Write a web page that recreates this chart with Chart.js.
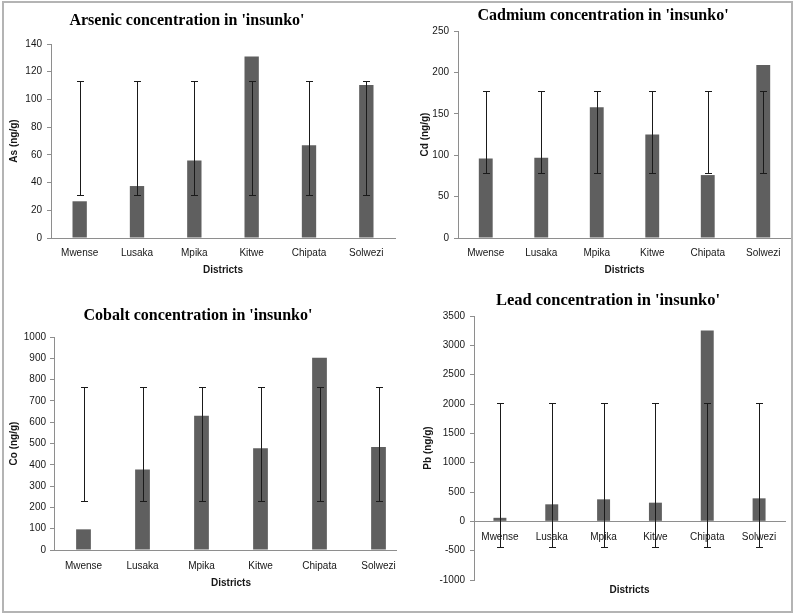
<!DOCTYPE html>
<html>
<head>
<meta charset="utf-8">
<title>Heavy metal concentration in 'insunko'</title>
<script src="https://cdn.jsdelivr.net/npm/chart.js@4.4.1/dist/chart.umd.min.js"></script>
<style>
  body { margin:0; background:#fff; }
  #page { position:relative; width:794px; height:614px; overflow:hidden; background:#fff; }
  .panel { position:absolute; background:#fff; }
  .ttl { position:absolute; width:400px; text-align:center; font-family:"Liberation Serif","Times New Roman",serif;
         font-weight:bold; font-size:16px; line-height:20px; color:#000; white-space:nowrap; z-index:5; }
  #frame { position:absolute; left:2px; top:1px; width:787px; height:608px; border:2px solid #b4b4b4; z-index:10; pointer-events:none; }
</style>
</head>
<body>
<div id="page">
  <div class="panel" style="left:0;top:290px;width:420px;height:324px;z-index:1"><canvas id="coChart"></canvas></div>
  <div class="panel" style="left:0;top:0;width:397px;height:290px;z-index:2"><canvas id="asChart"></canvas></div>
  <div class="panel" style="left:397px;top:0;width:397px;height:290px;z-index:2"><canvas id="cdChart"></canvas></div>
  <div class="panel" style="left:397px;top:290px;width:397px;height:324px;z-index:3"><canvas id="pbChart"></canvas></div>
  <div class="ttl" style="left:-13px;top:10px">Arsenic concentration in 'insunko'</div>
  <div class="ttl" style="left:403px;top:5px">Cadmium concentration in 'insunko'</div>
  <div class="ttl" style="left:-2px;top:305px">Cobalt concentration in 'insunko'</div>
  <div class="ttl" style="left:408px;top:290px;font-size:16.5px">Lead concentration in 'insunko'</div>
  <div id="frame"></div>
</div>
<script>
const districts = ["Mwense", "Lusaka", "Mpika", "Kitwe", "Chipata", "Solwezi"];

const arsenic = [26.5, 37.5, 56, 131, 67, 110.5];
const arsenicLow = [31, 31, 31, 31, 31, 31];
const arsenicHigh = [113, 113, 113, 113, 113, 113];
const arsenicTicks = [0, 140, 20];

const cadmium = [96, 97, 158, 125, 76, 209];
const cadmiumLow = [78, 78, 78, 78, 78, 78];
const cadmiumHigh = [177, 177, 177, 177, 177, 177];
const cadmiumTicks = [0, 250, 50];

const cobalt = [97, 378, 630, 478, 903, 483];
const cobaltLow = [228, 228, 228, 228, 228, 228];
const cobaltHigh = [763, 763, 763, 763, 763, 763];
const cobaltTicks = [0, 1000, 100];

const lead = [60, 290, 375, 318, 3254, 392];
const leadLow = [-435, -435, -435, -435, -435, -435];
const leadHigh = [2010, 2010, 2010, 2010, 2010, 2010];
const leadTicks = [-1000, 3500, 500];

const BAR = "#5f5f5f";
const AXIS = "#8e8e8e";
const TEXT = "#161616";
const SANS = "'Liberation Sans', Arial, sans-serif";

// simple error bars drawn through the chart's own scales
const errorBarPlugin = {
    id: "errorBars",
    afterDatasetsDraw(chart, args, opts) {
        const ctx = chart.ctx, x = chart.scales.x, y = chart.scales.y;
        ctx.save();
        ctx.strokeStyle = "#1a1a1a";
        ctx.lineWidth = 1;
        opts.low.forEach((lo, i) => {
            const px = Math.round(x.getPixelForValue(i)) + 0.5;
            const yLo = Math.round(y.getPixelForValue(lo)) + 0.5;
            const yHi = Math.round(y.getPixelForValue(opts.high[i])) + 0.5;
            ctx.beginPath();
            ctx.moveTo(px, yLo); ctx.lineTo(px, yHi);
            ctx.moveTo(px - 3.5, yLo); ctx.lineTo(px + 3.5, yLo);
            ctx.moveTo(px - 3.5, yHi); ctx.lineTo(px + 3.5, yHi);
            ctx.stroke();
        });
        ctx.restore();
    }
};

// one panel; cfg holds the layout numbers for that panel
function makeChart(id, values, low, high, ticks, yTitle, cfg) {
    const scales = {
        x: {
            type: "category",
            offset: true,
            position: cfg.xAtZero ? {y: 0} : "bottom",
            grid: {display: false, drawTicks: false},
            border: {display: true, color: AXIS, width: 1},
            ticks: {color: TEXT, font: {family: SANS, size: 10}, padding: cfg.xPad, maxRotation: 0, autoSkip: false},
            title: {display: !cfg.xAtZero, text: "Districts", color: TEXT,
                    font: {family: SANS, size: 10, weight: "bold"}, padding: {top: 0, bottom: cfg.titleBottom}},
            afterFit: s => { s.height = cfg.xHeight; }
        },
        y: {
            min: ticks[0], max: ticks[1],
            grid: {drawOnChartArea: false, drawTicks: true, tickLength: 4, color: AXIS},
            border: {display: true, color: AXIS, width: 1},
            ticks: {stepSize: ticks[2], color: TEXT, font: {family: SANS, size: 10}, padding: cfg.yPad,
                    callback: v => String(v)},
            title: {display: true, text: yTitle, color: TEXT,
                    font: {family: SANS, size: 10, weight: "bold"}, padding: {top: cfg.yTitlePad, bottom: 0}},
            afterFit: s => { s.width = cfg.yWidth; }
        }
    };
    if (cfg.xAtZero) {
        scales.x2 = {
            type: "category",
            position: "bottom",
            grid: {display: false, drawTicks: false},
            border: {display: false},
            ticks: {display: false},
            title: {display: true, text: "Districts", color: TEXT,
                    font: {family: SANS, size: 10, weight: "bold"}, padding: {top: 0, bottom: cfg.titleBottom}},
            afterFit: s => { s.height = cfg.xHeight; }
        };
    }
    return new Chart(document.getElementById(id), {
        type: "bar",
        data: {
            labels: districts,
            datasets: [{data: values, backgroundColor: BAR, borderWidth: 0,
                        barPercentage: 0.25, categoryPercentage: 1, xAxisID: "x", yAxisID: "y"}]
        },
        options: {
            responsive: true,
            maintainAspectRatio: false,
            animation: false,
            layout: {padding: {left: 0, top: cfg.top, right: cfg.right, bottom: 0}},
            plugins: {
                legend: {display: false},
                tooltip: {enabled: false},
                title: {display: false},
                errorBars: {low: low, high: high}
            },
            scales: scales
        },
        plugins: [errorBarPlugin]
    });
}

makeChart("asChart", arsenic, arsenicLow, arsenicHigh, arsenicTicks, "As (ng/g)",
    {top: 44, right: 2, yWidth: 51, xHeight: 52, xPad: 9, titleBottom: 14, yPad: 5, yTitlePad: 8});
makeChart("cdChart", cadmium, cadmiumLow, cadmiumHigh, cadmiumTicks, "Cd (ng/g)",
    {top: 31, right: 3, yWidth: 61, xHeight: 52, xPad: 9, titleBottom: 14, yPad: 5, yTitlePad: 22});
makeChart("coChart", cobalt, cobaltLow, cobaltHigh, cobaltTicks, "Co (ng/g)",
    {top: 47, right: 12, yWidth: 54, xHeight: 64, xPad: 10, titleBottom: 25, yPad: 4, yTitlePad: 8});
makeChart("pbChart", lead, leadLow, leadHigh, leadTicks, "Pb (ng/g)",
    {top: 26, right: 9, yWidth: 77, xHeight: 34, xPad: 10, titleBottom: 18, yPad: 5, yTitlePad: 25, xAtZero: true});
</script>
</body>
</html>
